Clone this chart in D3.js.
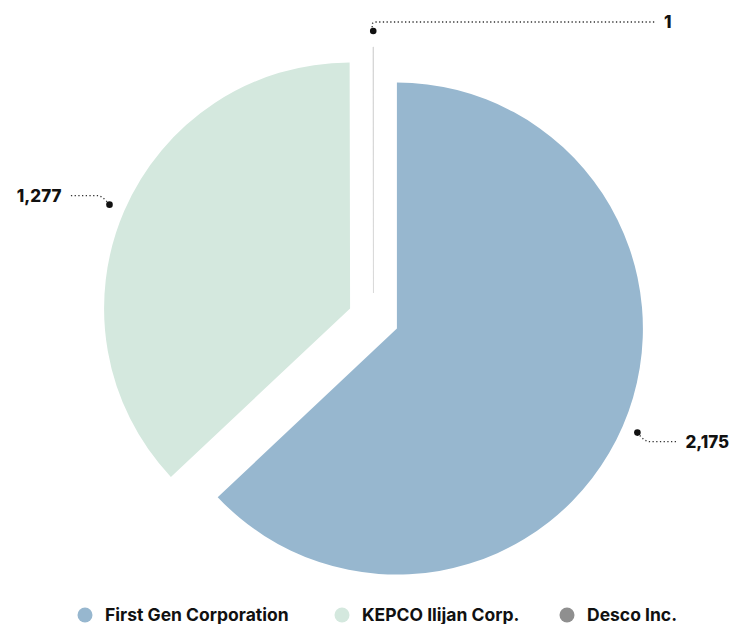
<!DOCTYPE html>
<html>
<head>
<meta charset="utf-8">
<script src="https://cdn.jsdelivr.net/npm/d3@7"></script>
<style>
  body { margin: 0; background: #fff; }
  svg text { font-family: Inter, Roboto, sans-serif; }
</style>
</head>
<body>
<div id="chart"></div>
<script>
// chart data
var companies = ["First Gen Corporation", "KEPCO Ilijan Corp.", "Desco Inc."];
var capacity = [2175, 1277, 1];
var colors = ["#97b7cf", "#d4e8de", "#8f8f8f"];

var width = 735, height = 624;
var cx = 373.5, cy = 318.5, radius = 246, slicedOffset = 25.5;

var svg = d3.select("#chart").append("svg")
    .attr("width", width)
    .attr("height", height);

var pie = d3.pie().sort(null).value(function (d) { return d; });
var arcs = pie(capacity);
var arc = d3.arc().innerRadius(0).outerRadius(radius);

var fmt = d3.format(",");

var slices = svg.selectAll("g.slice")
    .data(arcs)
    .enter().append("g")
    .attr("class", "slice")
    .attr("transform", function (d) {
        var mid = (d.startAngle + d.endAngle) / 2;
        var ox = cx + Math.sin(mid) * slicedOffset,
            oy = cy - Math.cos(mid) * slicedOffset;
        return "translate(" + ox + "," + oy + ")";
    });

slices.append("path")
    .attr("d", arc)
    .attr("fill", function (d, i) { return colors[i]; })
    .attr("stroke", function (d, i) { return i == 2 ? "#d8d8d8" : "none"; })
    .attr("stroke-width", 0.8);

// data labels with dotted connectors
slices.each(function (d, i) {
    var g = d3.select(this);
    var mid = (d.startAngle + d.endAngle) / 2;
    var dx = Math.sin(mid), dy = -Math.cos(mid);
    var p0 = [dx * (radius + 16), dy * (radius + 16)];
    var right = dx >= -0.01;
    var top = Math.abs(dx) < 0.05;
    var p1, endX;
    if (top) {
        // tiny slice at 12 o'clock: label pushed to the side
        p1 = [p0[0] + 2, p0[1] - 9];
        endX = 655 - (cx + dx * slicedOffset);
    } else {
        p1 = [p0[0] + (right ? 12 : -12), p0[1] + (dy > 0 ? 9 : -9)];
        endX = p1[0] + (right ? 27 : -27);
    }

    g.append("path")
        .attr("d", "M" + p0 + "Q" + [p1[0] - (right ? 5 : -5), p1[1]] + " " + p1 + "L" + [endX, p1[1]])
        .attr("fill", "none")
        .attr("stroke", "#333")
        .attr("stroke-width", 1.3)
        .attr("stroke-dasharray", "1.3,2.4");

    g.append("circle")
        .attr("cx", p0[0]).attr("cy", p0[1])
        .attr("r", 3.3)
        .attr("fill", "#111");

    g.append("text")
        .attr("x", endX + (right ? 9 : -9))
        .attr("y", p1[1])
        .attr("dy", "0.36em")
        .attr("text-anchor", right ? "start" : "end")
        .attr("font-size", 17)
        .attr("font-weight", 800)
        .attr("fill", "#111")
        .text(fmt(capacity[i]));
});

// legend
var legendX = [85, 342, 567];
var legend = svg.selectAll("g.legend")
    .data(companies)
    .enter().append("g")
    .attr("class", "legend")
    .attr("transform", function (d, i) { return "translate(" + legendX[i] + ",615)"; });

legend.append("circle")
    .attr("r", 7.5)
    .attr("fill", function (d, i) { return colors[i]; });

legend.append("text")
    .attr("x", 20)
    .attr("dy", "0.36em")
    .attr("font-size", 17.5)
    .attr("font-weight", 700)
    .attr("fill", "#111")
    .text(function (d) { return d; });
</script>
</body>
</html>
